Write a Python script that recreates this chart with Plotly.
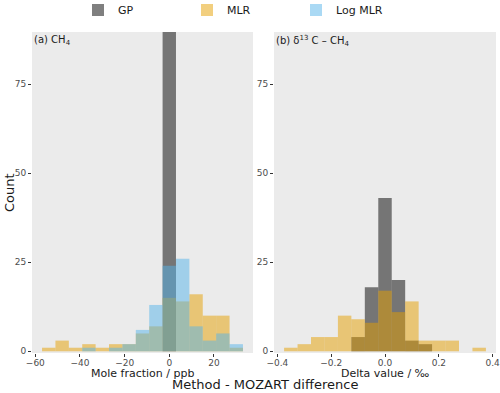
import plotly.graph_objects as go

# Bin centres (bin width 6 ppb for CH4, 0.05 per mil for d13C)
ch4_centres = [-54, -48, -42, -36, -30, -24, -18, -12, -6, 0, 6, 12, 18, 24, 30]
ch4_gp = [0, 0, 0, 0, 0, 0, 0, 0, 0, 90, 0, 0, 0, 0, 0]
ch4_mlr = [1, 3, 1, 2, 1, 2, 2, 5, 7, 15, 14, 16, 10, 10, 1]
ch4_logmlr = [0, 0, 0, 1, 0, 1, 2, 6, 13, 24, 26, 7, 3, 5, 2]

d13c_centres = [-0.35, -0.3, -0.25, -0.2, -0.15, -0.1, -0.05, 0.0, 0.05, 0.1, 0.15, 0.2, 0.25, 0.3, 0.35]
d13c_gp = [0, 0, 0, 0, 0, 4, 18, 43, 20, 3, 2, 0, 0, 0, 0]
d13c_mlr = [1, 2, 4, 4, 10, 9, 8, 17, 11, 14, 3, 3, 3, 0, 1]

ch4_ticks = [-60, -40, -20, 0, 20]
d13c_ticks = [-0.4, -0.2, 0.0, 0.2, 0.4]
count_ticks = [0, 25, 50, 75]

COLOR_GP = "rgba(0,0,0,0.5)"
COLOR_MLR = "rgba(230,159,0,0.5)"
COLOR_LOG = "rgba(86,180,233,0.5)"
FONT = "DejaVu Sans"

fig = go.Figure()

series = (
    ("GP", COLOR_GP, ch4_gp, d13c_gp),
    ("MLR", COLOR_MLR, ch4_mlr, d13c_mlr),
    ("Log MLR", COLOR_LOG, ch4_logmlr, None),
)
for name, color, left, right in series:
    fig.add_trace(
        go.Bar(
            x=ch4_centres, y=left, width=6, name=name, marker_color=color,
            marker_line_width=0, xaxis="x", yaxis="y", legendgroup=name,
        )
    )
    if right is not None:
        fig.add_trace(
            go.Bar(
                x=d13c_centres, y=right, width=0.05, name=name, marker_color=color,
                marker_line_width=0, xaxis="x2", yaxis="y2", legendgroup=name,
                showlegend=False,
            )
        )

axis_common = dict(
    showgrid=False, zeroline=False, ticks="outside", ticklen=3, tickcolor="#333333",
    tickfont=dict(family=FONT, size=9, color="#4D4D4D"), showline=False,
    automargin=False, ticklabeloverflow="allow",
)
yrange = [-0.48, 89.6]

fig.update_layout(
    width=500, height=393,
    barmode="overlay",
    paper_bgcolor="white",
    plot_bgcolor="#EBEBEB",
    margin=dict(l=0, r=0, t=32, b=40, autoexpand=False),
    font=dict(family=FONT),
    xaxis=dict(domain=[0.064, 0.506], range=[-61.5, 37.5], tickvals=ch4_ticks,
               anchor="y", ticklabelstandoff=-2, **axis_common),
    yaxis=dict(domain=[0, 1], range=yrange, tickvals=count_ticks, anchor="x", **axis_common),
    xaxis2=dict(domain=[0.548, 0.992], range=[-0.4125, 0.4125], tickvals=d13c_ticks,
                tickformat=".1f", anchor="y2", ticklabelstandoff=-2, **axis_common),
    yaxis2=dict(domain=[0, 1], range=yrange, tickvals=count_ticks, anchor="x2", **axis_common),
    legend=dict(
        orientation="h", x=0.156, xanchor="left", y=1.0685, yanchor="middle",
        font=dict(family=FONT, size=11, color="#1A1A1A"),
        entrywidth=64, entrywidthmode="pixels", itemsizing="constant",
        traceorder="normal",
    ),
    annotations=[
        dict(text="(a) CH<sub>4</sub>", x=0, xref="x domain", y=1, yref="y domain",
             xanchor="left", yanchor="top", showarrow=False,
             font=dict(size=10, color="#1A1A1A")),
        dict(text="(b) δ<sup>13</sup> C – CH<sub>4</sub>", x=0, xref="x2 domain", y=1,
             yref="y2 domain", xanchor="left", yanchor="top", showarrow=False,
             font=dict(size=10, color="#1A1A1A")),
        dict(text="Mole fraction / ppb", x=0.5, xref="x domain", y=-0.037, yref="paper",
             xanchor="center", yanchor="top", showarrow=False,
             font=dict(size=11, color="#1A1A1A")),
        dict(text="Delta value / ‰", x=0.5, xref="x2 domain", y=-0.037, yref="paper",
             xanchor="center", yanchor="top", showarrow=False,
             font=dict(size=11, color="#1A1A1A")),
        dict(text="Method - MOZART difference", x=0.53, xref="paper", y=-0.07,
             yref="paper", xanchor="center", yanchor="top", showarrow=False,
             font=dict(size=13, color="#1A1A1A")),
        dict(text="Count", x=0.0, xref="paper", y=0.5, yref="paper", xanchor="left",
             yanchor="middle", textangle=-90, showarrow=False,
             font=dict(size=13, color="#1A1A1A")),
    ],
)

fig.write_html(
    "out.html",
    config={"displayModeBar": False},
    post_script="document.body.style.margin = '0';",
)
